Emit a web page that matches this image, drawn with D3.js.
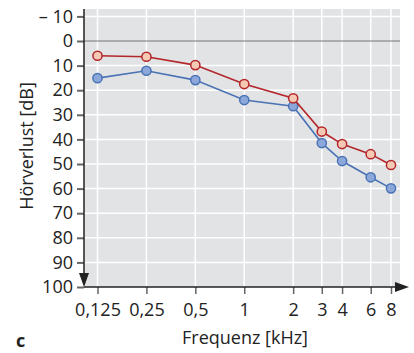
<!DOCTYPE html>
<html>
<head>
<meta charset="utf-8">
<script src="https://cdn.jsdelivr.net/npm/d3@7"></script>
<style>
  body { margin: 0; background: #fff; }
  text { font-family: "Open Sans", sans-serif; fill: #222; }
</style>
</head>
<body>
<svg id="chart" width="414" height="353"></svg>
<script>
// frequencies in kHz
const freqs = [0.125, 0.25, 0.5, 1, 2, 3, 4, 6, 8]
const freqLabels = ['0,125', '0,25', '0,5', '1', '2', '3', '4', '6', '8']
// hearing loss in dB
const redLoss = [6, 6.4, 9.8, 17.5, 23.3, 36.8, 41.9, 46, 50.4]
const blueLoss = [15.1, 12.1, 15.9, 24, 26.5, 41.5, 48.8, 55.4, 59.9]
const dbTicks = [-10, 0, 10, 20, 30, 40, 50, 60, 70, 80, 90, 100]

const svg = d3.select('#chart')
const plotLeft = 84, plotRight = 400, plotTop = 9, plotBottom = 287

const x = d3.scaleLog().domain([0.125, 8]).range([97.5, 391])
const y = d3.scaleLinear().domain([0, 100]).range([41, plotBottom])

svg.append('rect')
    .attr('x', plotLeft).attr('y', plotTop)
    .attr('width', plotRight - plotLeft).attr('height', plotBottom - plotTop)
    .attr('fill', '#e2e3e5')

// grid
svg.append('g').selectAll('line')
    .data(dbTicks.filter(d => d !== 0 && d !== 100))
    .join('line')
    .attr('x1', plotLeft).attr('x2', plotRight)
    .attr('y1', d => y(d)).attr('y2', d => y(d))
    .attr('stroke', '#fff').attr('stroke-width', 1.5)
svg.append('g').selectAll('line')
    .data(freqs)
    .join('line')
    .attr('x1', d => x(d)).attr('x2', d => x(d))
    .attr('y1', plotTop).attr('y2', plotBottom)
    .attr('stroke', '#fff').attr('stroke-width', 1.5)

svg.append('line')
    .attr('x1', plotLeft).attr('x2', plotRight)
    .attr('y1', y(0)).attr('y2', y(0))
    .attr('stroke', '#777').attr('stroke-width', 1.2)

// y axis
const yAxis = d3.axisLeft(y).tickValues(dbTicks).tickSize(7).tickPadding(4)
    .tickFormat(d => d < 0 ? '\u2013 ' + Math.abs(d) : d)
const gy = svg.append('g').attr('transform', `translate(${plotLeft},0)`).call(yAxis)
gy.select('.domain').remove()
gy.selectAll('.tick line').attr('stroke', '#666').attr('stroke-width', 2)
gy.selectAll('.tick text').attr('font-size', 18).attr('font-family', '"Open Sans", sans-serif').attr('fill', '#222')

// x axis
const xAxis = d3.axisBottom(x).tickValues(freqs).tickSize(7).tickPadding(9)
    .tickFormat((d, i) => freqLabels[i])
const gx = svg.append('g').attr('transform', `translate(0,${plotBottom})`).call(xAxis)
gx.select('.domain').remove()
gx.selectAll('.tick line').attr('stroke', '#666').attr('stroke-width', 1.5)
gx.selectAll('.tick text').attr('font-size', 18).attr('font-family', '"Open Sans", sans-serif').attr('fill', '#222')

// axis lines with arrows
svg.append('line')
    .attr('x1', plotLeft).attr('x2', plotLeft).attr('y1', plotTop).attr('y2', plotBottom - 2)
    .attr('stroke', '#222').attr('stroke-width', 1.5)
svg.append('path')
    .attr('d', `M${plotLeft - 5},${plotBottom - 14} L${plotLeft + 5},${plotBottom - 14} L${plotLeft},${plotBottom} Z`)
    .attr('fill', '#222')
svg.append('line')
    .attr('x1', plotLeft).attr('x2', 400).attr('y1', plotBottom).attr('y2', plotBottom)
    .attr('stroke', '#222').attr('stroke-width', 1.5)
svg.append('path')
    .attr('d', `M395,${plotBottom - 5} L409,${plotBottom} L395,${plotBottom + 5} Z`)
    .attr('fill', '#222')

// series
const line = d3.line().x(d => x(d[0])).y(d => y(d[1]))
const series = [
    { values: blueLoss, stroke: '#4a73b6', fill: '#8ca8da' },
    { values: redLoss, stroke: '#b3262a', fill: '#f6c9b4' }
]
series.forEach(s => {
    const pts = freqs.map((f, i) => [f, s.values[i]])
    svg.append('path').datum(pts)
        .attr('d', line).attr('fill', 'none')
        .attr('stroke', s.stroke).attr('stroke-width', 1.6)
    svg.append('g').selectAll('circle').data(pts).join('circle')
        .attr('cx', d => x(d[0])).attr('cy', d => y(d[1])).attr('r', 4.6)
        .attr('fill', s.fill).attr('stroke', s.stroke).attr('stroke-width', 1.5)
})

svg.append('text')
    .attr('x', 245).attr('y', 344).attr('text-anchor', 'middle')
    .attr('font-size', 18).text('Frequenz [kHz]')
svg.append('text')
    .attr('transform', 'translate(33,146) rotate(-90)').attr('text-anchor', 'middle')
    .attr('font-size', 18).text('Hörverlust [dB]')
svg.append('text')
    .attr('x', 16).attr('y', 347)
    .attr('font-size', 18).attr('font-weight', 'bold').text('c')
</script>
</body>
</html>
